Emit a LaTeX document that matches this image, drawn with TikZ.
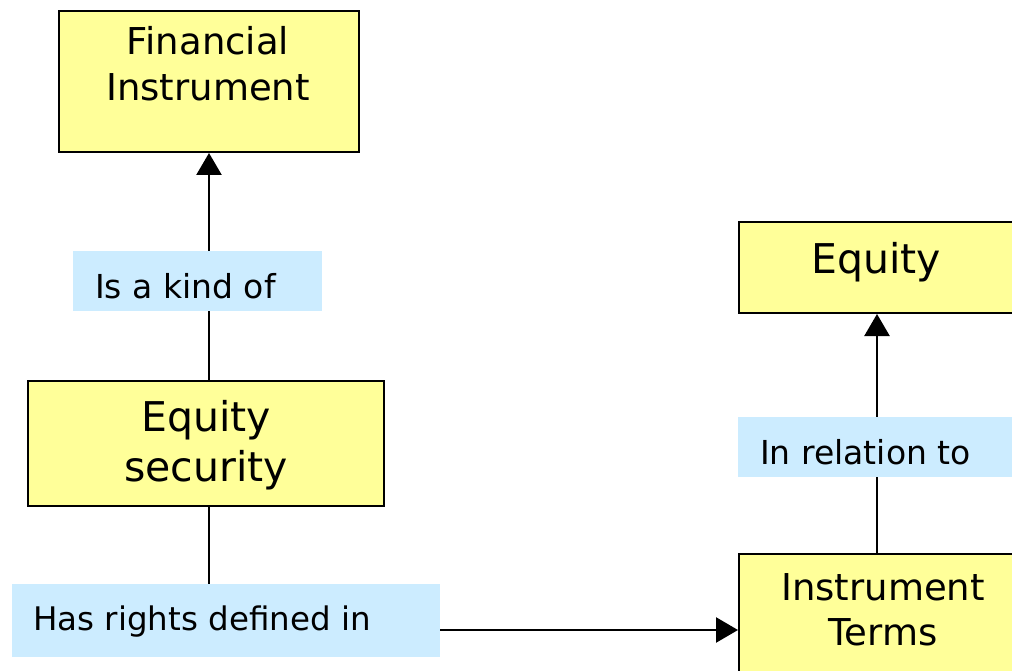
\documentclass[tikz,border=0pt]{standalone}
\usepackage{fontspec}
\setmainfont{DejaVu Sans}
\usetikzlibrary{arrows.meta}
\definecolor{boxyellow}{HTML}{FFFF99}
\definecolor{tagblue}{HTML}{CCECFF}
\pgfdeclarelayer{background}
\pgfsetlayers{background,main}
\begin{document}
\begin{tikzpicture}[x=1pt,y=-1pt,
  concept/.style={draw=black, line width=2pt, fill=boxyellow, inner sep=0pt, anchor=north west},
  tag/.style={fill=tagblue, inner sep=0pt, anchor=north west},
  word/.style={inner sep=0pt, text=black},
  link/.style={line width=2.5pt},
  arr/.style={link, -{Triangle[length=22pt,width=25pt]}}]
\useasboundingbox (0,0) rectangle (1012,671);
\clip (0,0) rectangle (1012,671);

% concept boxes (multi-line texts are placed by the baseline of their last line)
\node[concept, minimum width=300pt, minimum height=141pt] (fin) at (58,10) {};
\node[word, anchor=base, align=center, font=\fontsize{37}{45.7}\selectfont] (fintxt) at (208,100.7) {Financial\\Instrument};

\node[concept, minimum width=356pt, minimum height=125pt] (esec) at (27,380) {};
\node[word, anchor=base, align=center, font=\fontsize{41}{50}\selectfont] (esectxt) at (206,481.7) {Equity\\security};

\node[concept, minimum width=276pt, minimum height=91pt] (eq) at (738,221) {};
\node[word, anchor=base, font=\fontsize{41}{47}\selectfont] (eqtxt) at (876,273) {Equity};

\node[concept, minimum width=276pt, minimum height=152pt] (terms) at (738,553) {};
\node[word, anchor=base, align=center, font=\fontsize{37}{45}\selectfont] (termstxt) at (883,645.7) {Instrument\\Terms};

% relation labels
\node[tag, minimum width=249pt, minimum height=60pt] (kind) at (73,251) {};
\node[word, anchor=base west, font=\fontsize{33}{40}\selectfont] (kindtxt) at (95,298) {Is a kind of};

\node[tag, minimum width=276pt, minimum height=60pt] (rel) at (738,417) {};
\node[word, anchor=base west, font=\fontsize{33}{40}\selectfont] (reltxt) at (760,464) {In relation to};

\node[tag, minimum width=428pt, minimum height=73pt] (has) at (12,584) {};
\node[word, anchor=base west, font=\fontsize{32.5}{40}\selectfont] (hastxt) at (33,630) {Has rights defined in};

% connectors
\begin{pgfonlayer}{background}
\draw[arr] (fin.south |- esec.north) -- (fin.south);
\draw[link] (fin.south |- esec.south) -- (fin.south |- has.north);
\draw[arr] (terms.west -| has.east) -- (terms.west);
\draw[arr] (terms.north) -- (eq.south);
\end{pgfonlayer}
\end{tikzpicture}
\end{document}
